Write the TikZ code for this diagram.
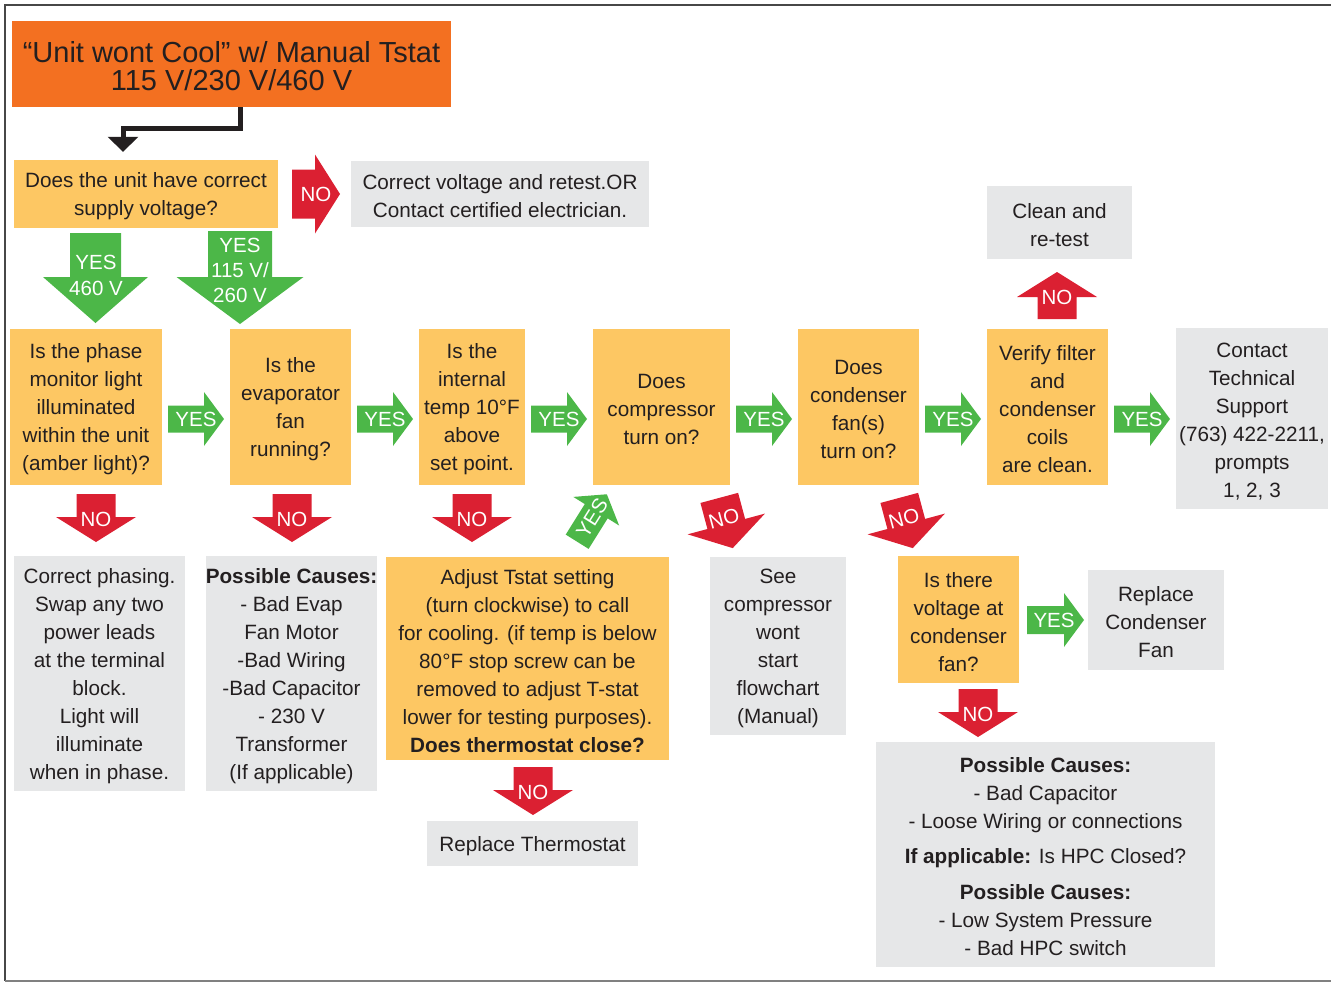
\documentclass[tikz,border=0pt]{standalone}
\usepackage{fontspec}
\setmainfont{Liberation Sans}
\usetikzlibrary{arrows.meta}
\definecolor{cTitle}{HTML}{F37021}
\definecolor{cYel}{HTML}{FDC763}
\definecolor{cGray}{HTML}{E6E7E8}
\definecolor{cGreen}{HTML}{4CB748}
\definecolor{cRed}{HTML}{DB2032}
\definecolor{cText}{HTML}{231F20}
% first-line strut, to set the text of a box a little lower
\newcommand\tp{\rule{0pt}{20pt}}
\newcommand\tpt{\rule{0pt}{25pt}}
% #1 x, #2 y, #3 angle, #4 length, #5 body width, #6 head width, #7 head length, #8 colour
\newcommand\barrow[8]{%
  \fill[#8,shift={(#1,#2)},rotate=#3]
    ({-#4/2},{-#5/2}) -- ({#4/2-#7},{-#5/2}) -- ({#4/2-#7},{-#6/2}) -- ({#4/2},0)
    -- ({#4/2-#7},{#6/2}) -- ({#4/2-#7},{#5/2}) -- ({-#4/2},{#5/2}) -- cycle;}
\begin{document}
\begin{tikzpicture}[x=1pt,y=1pt,
  box/.style={rectangle, inner sep=0pt, align=center, text=cText,
    font=\fontsize{20.7}{28}\selectfont},
  wh/.style 2 args={minimum width=#1pt, minimum height=#2pt},
  ybox/.style={box, fill=cYel},
  gbox/.style={box, fill=cGray},
  lbl/.style={text=white, inner sep=0pt, align=center,
    font=\fontsize{20.5}{26}\selectfont},
  flow/.style={line width=5pt, draw=cText, -{Triangle[width=30pt,length=15pt]}}]
\useasboundingbox (0,0) rectangle (1331,-983);
% frame
\draw[line width=1.6pt, black!72] (1331,-5) -- (5,-5) -- (5,-981);
\draw[line width=1.6pt, black!50] (5,-981) -- (1331,-981);

% boxes
\node[box, fill=cTitle, wh={439}{86}, font=\fontsize{29}{28}\selectfont] (title) at (231.5,-64)
  {\tpt“Unit wont Cool” w/ Manual Tstat\\115 V/230 V/460 V};
\node[ybox, wh={264}{68}] (q1) at (146,-194) {\tp Does the unit have correct\\supply voltage?};
\node[gbox, wh={298}{66}] (nov) at (500,-194) {\tp Correct voltage and retest.OR\\Contact certified electrician.};

\node[ybox, wh={152}{156}] (b1) at (86,-407) {\tp Is the phase\\monitor light\\illuminated\\within the unit\\(amber light)?};
\node[ybox, wh={121}{156}] (b2) at (290.5,-407) {\tp Is the\\evaporator\\fan\\running?};
\node[ybox, wh={106}{156}] (b3) at (472,-407) {\tp Is the\\internal\\temp 10°F\\above\\set point.};
\node[ybox, wh={137}{156}] (b4) at (661.5,-407) {\tp Does\\compressor\\turn on?};
\node[ybox, wh={121}{156}] (b5) at (858.5,-407) {\tp Does\\condenser\\fan(s)\\turn on?};
\node[ybox, wh={121}{156}] (b6) at (1047.5,-407) {\tp Verify filter\\and\\condenser\\coils\\are clean.};
\node[gbox, wh={152}{181}] (b7) at (1252,-418.5) {\tp Contact\\Technical\\Support\\(763) 422-2211,\\prompts\\1, 2, 3};
\node[gbox, wh={145}{73}] (clean) at (1059.5,-222.5) {\tp Clean and\\re-test};

\node[gbox, wh={171}{235}] (phase) at (99.5,-673.5) {\tp Correct phasing.\\Swap any two\\power leads\\at the terminal\\block.\\Light will\\illuminate\\when in phase.};
\node[gbox, wh={171}{235}] (cause1) at (291.5,-673.5) {\tp\textbf{Possible Causes:}\\- Bad Evap\\Fan Motor\\-Bad Wiring\\-Bad Capacitor\\- 230 V\\Transformer\\(If applicable)};
\node[ybox, wh={283}{203}] (adjust) at (527.5,-658.5) {\tp Adjust Tstat setting\\(turn clockwise) to call\\for cooling. (if temp is below\\80°F stop screw can be\\removed to adjust T-stat\\lower for testing purposes).\\\textbf{Does thermostat close?}};
\node[gbox, wh={211}{45}] (replT) at (532.5,-843.5) {\tp Replace Thermostat};
\node[gbox, wh={136}{178}] (seec) at (778,-646) {\tp See\\compressor\\wont\\start\\flowchart\\(Manual)};
\node[ybox, wh={121}{127}] (volt) at (958.5,-619.5) {\tp Is there\\voltage at\\condenser\\fan?};
\node[gbox, wh={136}{100}] (replC) at (1156,-620) {\tp Replace\\Condenser\\Fan};
\node[gbox, wh={339}{225}] (cause2) at (1045.5,-854.5) {\tp\textbf{Possible Causes:}\\- Bad Capacitor\\- Loose Wiring or connections\\[7pt]\textbf{If applicable:} Is HPC Closed?\\[8pt]\textbf{Possible Causes:}\\- Low System Pressure\\- Bad HPC switch};

% black flow arrow
\coordinate (bend) at (123,-128.5);
\draw[flow, shorten >=8pt] ([xshift=8.5pt]title.south) |- (bend) -- (q1.north -| bend);

% block arrows
\barrow{316}{-194}{0}{48}{49}{79}{25}{cRed}
\node[lbl] (n0) at (316,-194) {NO};
\barrow{95.5}{-278}{-90}{90}{51}{105}{46}{cGreen}
\node[lbl] (y460) at (96,-275) {YES\\460 V};
\barrow{240}{-277.5}{-90}{93}{64}{127}{47}{cGreen}
\node[lbl, font=\fontsize{20.5}{25}\selectfont] (y115) at (240,-270) {YES\\115 V/\\260 V};

\foreach \x/\n in {196/ya, 385/yb, 559/yc, 764/yd, 953/ye, 1142/yf}{
  \barrow{\x}{-419}{0}{56}{27}{54}{20}{cGreen}
  \node[lbl] (\n) at (\x,-419) {YES};
}
\foreach \x/\n in {96/na, 292/nb, 472/nc}{
  \barrow{\x}{-518}{-90}{48}{39}{80}{25}{cRed}
  \node[lbl] (\n) at (\x,-519) {NO};
}
\barrow{592}{-518}{58}{56}{27}{54}{20}{cGreen}
\node[lbl, rotate=58] (ydiag) at (592,-518) {YES};
\barrow{726}{-523}{-75}{52}{39}{80}{25}{cRed}
\node[lbl, rotate=15] (nd1) at (724,-519) {NO};
\barrow{906}{-523}{-75}{52}{39}{80}{25}{cRed}
\node[lbl, rotate=15] (nd2) at (904,-519) {NO};
\barrow{1057}{-295.5}{90}{47}{39}{80}{25}{cRed}
\node[lbl] (nup) at (1057,-297) {NO};
\barrow{1055.5}{-620}{0}{57}{28}{54}{20}{cGreen}
\node[lbl] (yv) at (1054,-620) {YES};
\barrow{978}{-713}{-90}{48}{39}{80}{25}{cRed}
\node[lbl] (nv) at (978,-714) {NO};
\barrow{533}{-791}{-90}{48}{39}{80}{25}{cRed}
\node[lbl] (nt) at (533,-792) {NO};
\end{tikzpicture}
\end{document}
